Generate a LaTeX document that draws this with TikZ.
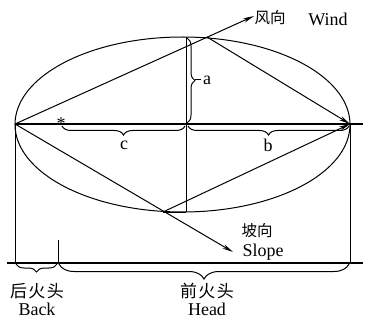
\documentclass[tikz,border=0pt]{standalone}
\usepackage{fontspec}
\setmainfont{Liberation Serif}
\newfontfamily\cjk{Noto Sans CJK SC}
\usetikzlibrary{arrows.meta,decorations.pathreplacing}
\begin{document}
\begin{tikzpicture}[x=1pt,y=-1pt, line width=1pt,
  arr/.style={-{Stealth[length=11pt,width=4.5pt]}},
  brc/.style={decorate, decoration={brace, amplitude=#1}},
  lat/.style={font=\fontsize{18}{20}\selectfont, inner sep=0pt},
  let/.style={font=\fontsize{18}{20}\selectfont, inner sep=0pt},
  zh/.style={font=\cjk\fontsize{15.5}{17}\selectfont, inner sep=0pt},
  zhb/.style={font=\cjk\fontsize{17}{19}\selectfont, inner sep=0pt}]
\useasboundingbox (0,0) rectangle (366,320);
% key points
\coordinate (L) at (15,124);
\coordinate (R) at (350,124);
\coordinate (C) at (186,124);
\coordinate (T) at (207,37);
\coordinate (Tv) at (186,37);
\coordinate (B) at (163,212);
\coordinate (Bv) at (186,212);
\coordinate (AxE) at (363,124);
\coordinate (LB) at (15,263);
\coordinate (RB) at (350,263);
\coordinate (MB) at (58,263);
\coordinate (MBt) at (58,240);
\coordinate (BL0) at (7,263);
\coordinate (BL1) at (363,263);
\coordinate (Wt) at (254,16);
\coordinate (St) at (233,252);
% ellipse
\draw (182.5,124.5) ellipse [x radius=167.5pt, y radius=87.5pt];
% axis and verticals
\draw[line width=1.5pt] (L) -- (AxE);
\draw (Tv) -- (Bv);
\draw (B) -- (Bv);
% arrows
\draw[arr] (L) -- (Wt);
\draw[arr] (L) -- (St);
\draw[arr] (T) -- (R);
\draw[arr] (B) -- (R);
% lower frame
\draw (L) -- (LB);
\draw (R) -- (RB);
\draw (MBt) -- (MB);
\draw[line width=1.2pt] (BL0) -- (BL1);
% braces
\draw[brc=9pt] (185,126) -- (62,126);
\draw[brc=9pt] (349,126) -- (188,126);
\draw[brc=8pt] (187,38) -- (187,123);
\draw (195,80) -- (201,80);
\draw[brc=8pt] (57,264) -- (16,264);
\draw[brc=15pt] (349,264) -- (59,264);
% labels
\node[inner sep=0pt, font=\fontsize{18}{18}\selectfont] (star) at (61,124) {*};
\node[let] (la) at (207,80) {a};
\node[let] (lb) at (268,145) {b};
\node[let] (lc) at (124,145) {c};
\node[zh] (fx) at (270,18) {风向};
\node[lat] (wind) at (328,19) {Wind};
\node[zh] (px) at (257,231) {坡向};
\node[lat] (slope) at (263,252) {Slope};
\node[zhb] (hhz) at (37,291) {后\kern1.5pt火\kern1.5pt头};
\node[lat] (back) at (37,309) {Back};
\node[zhb] (qhz) at (207,291) {前\kern1.5pt火\kern1.5pt头};
\node[lat] (head) at (207,309) {Head};
\end{tikzpicture}
\end{document}
